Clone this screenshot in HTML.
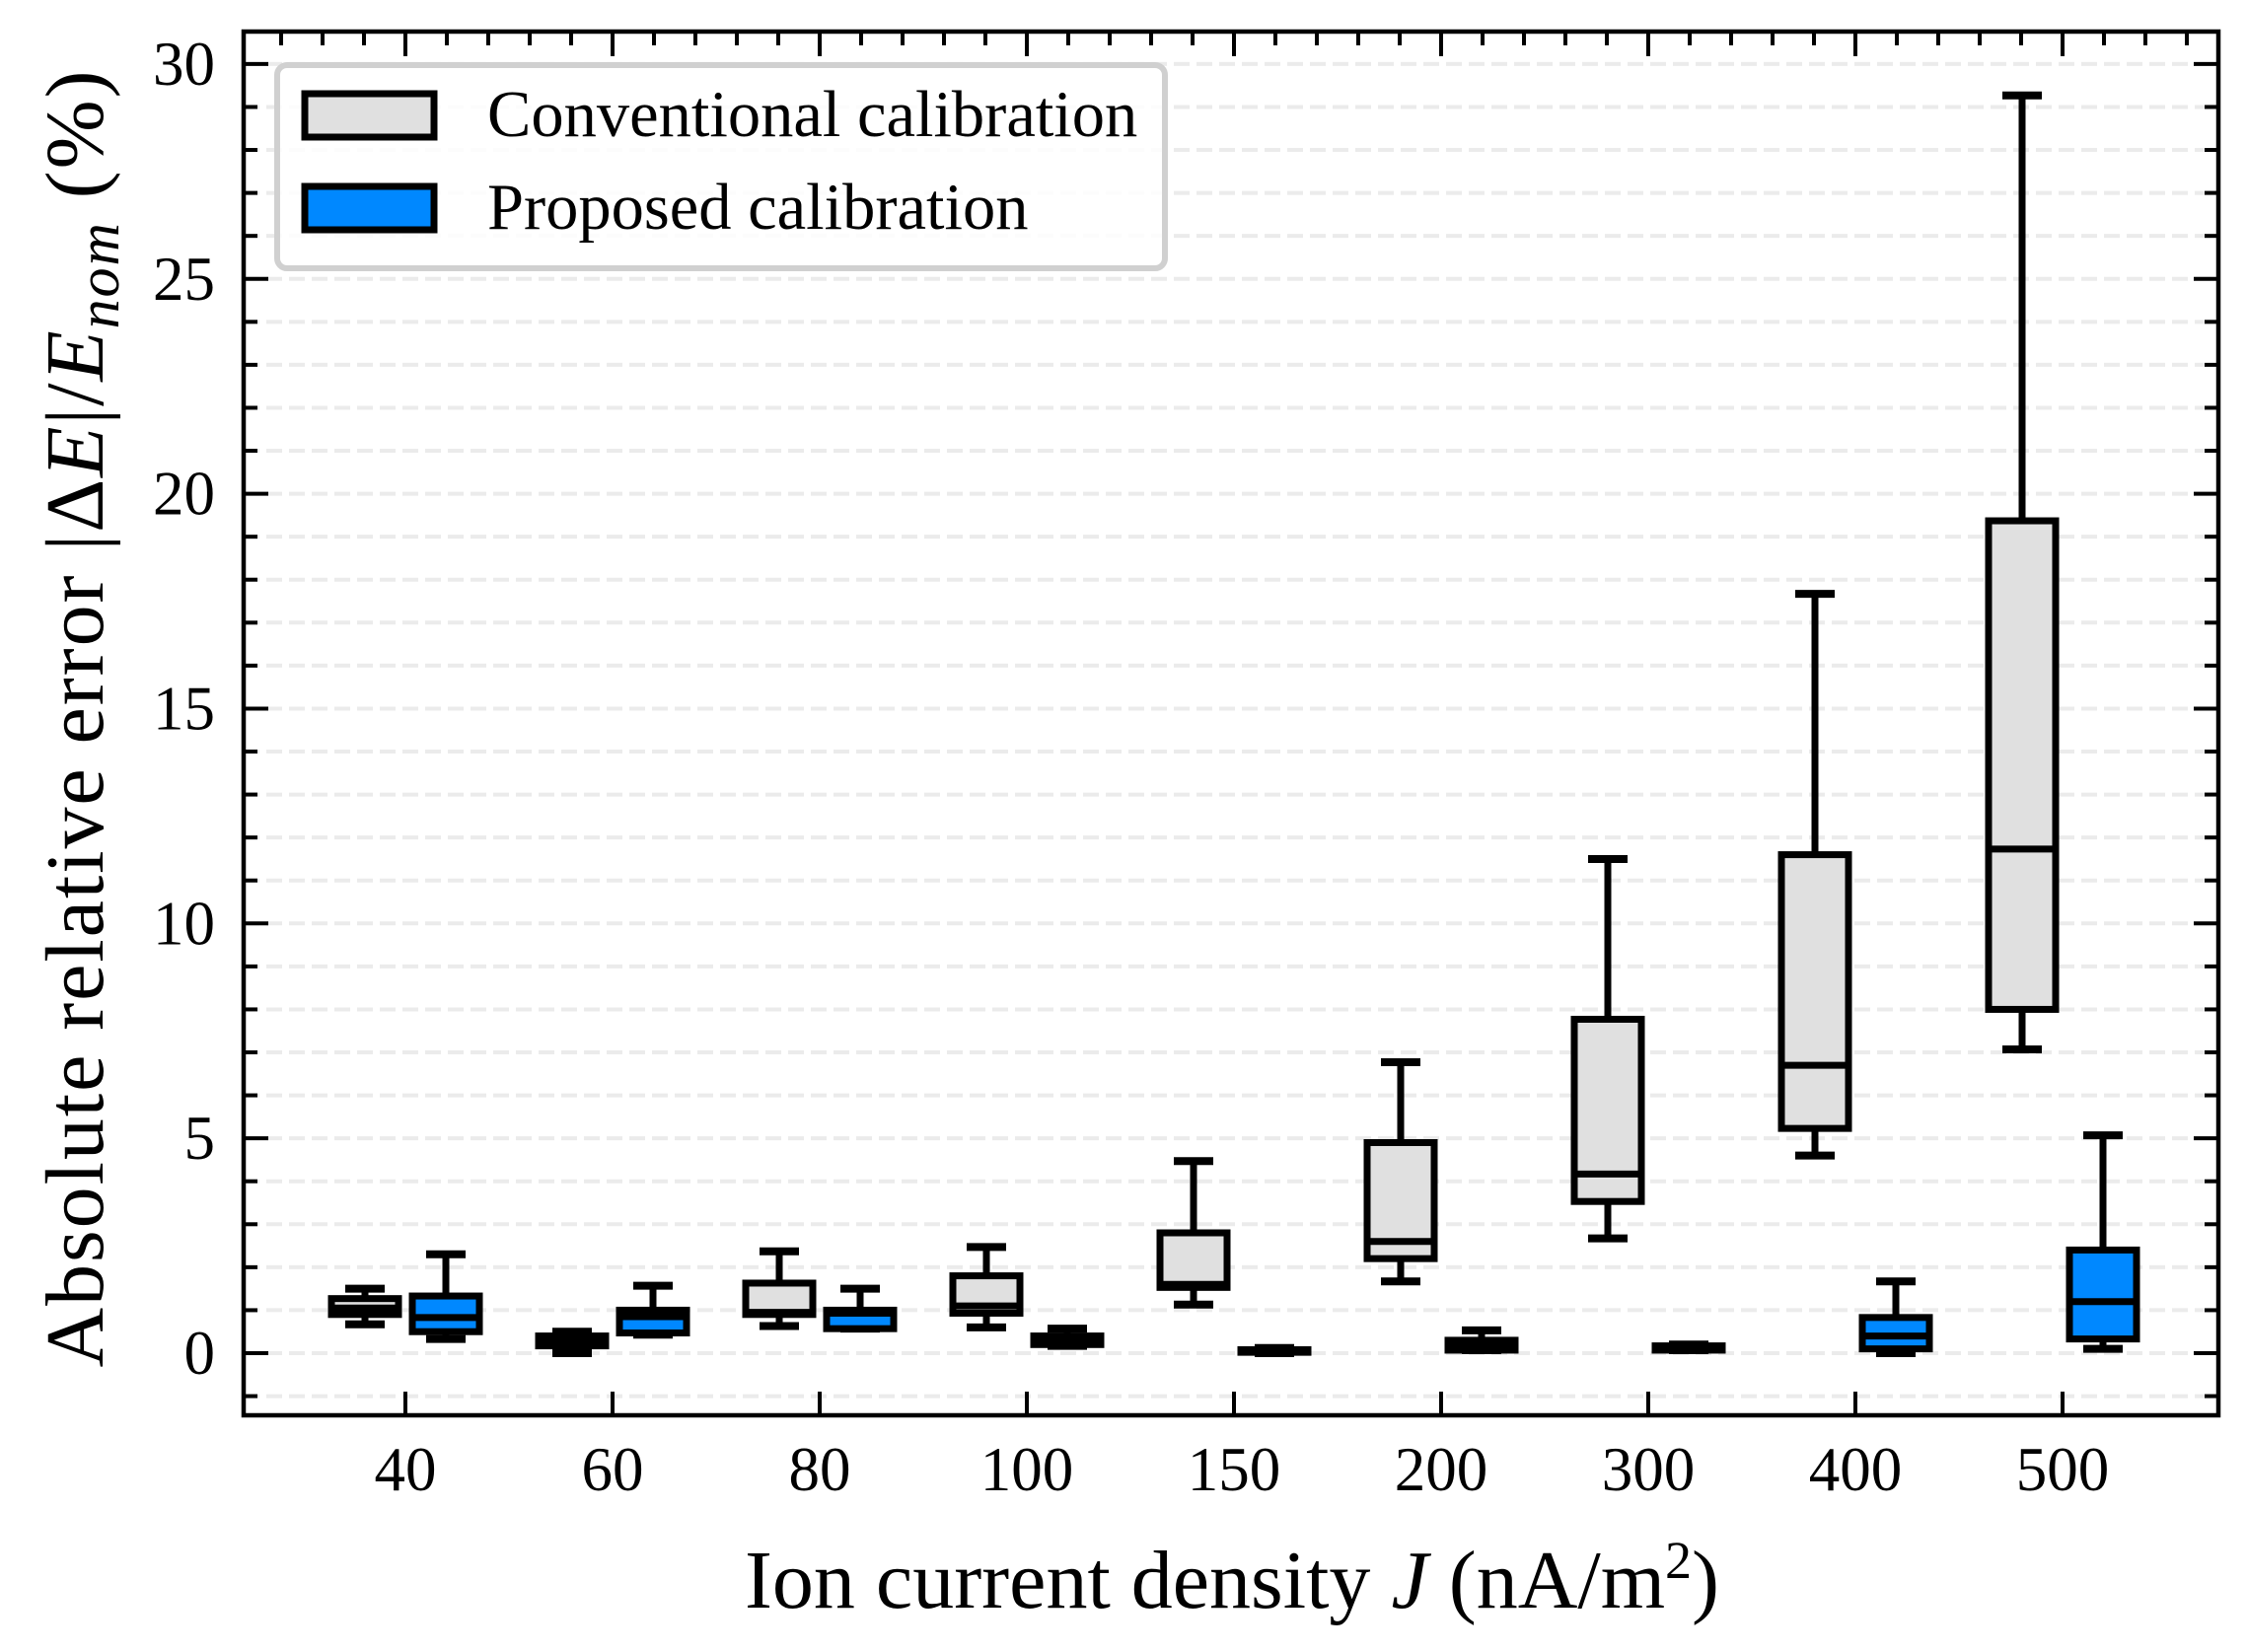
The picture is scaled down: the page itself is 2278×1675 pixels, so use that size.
<!DOCTYPE html>
<html><head><meta charset="utf-8"><style>
html,body{margin:0;padding:0;background:#fff;}
svg{display:block;}
text{font-family:"Liberation Serif","Times New Roman",serif;fill:#000;}
</style></head><body>
<svg id="chart" width="2278" height="1675" viewBox="0 0 2278 1675" xmlns="http://www.w3.org/2000/svg">
<g id="grid"></g>
<g id="boxes"></g>
<g id="axes"></g>
<g id="legend">
  <rect x="281" y="66" width="900" height="206" rx="10" fill="#fff" fill-opacity="0.85" stroke="#d0d0d0" stroke-width="6"/>
  <rect x="309" y="95" width="131" height="44" fill="#e0e0e0" stroke="#000" stroke-width="7"/>
  <text x="494" y="138" font-size="66.5">Conventional calibration</text>
  <rect x="309" y="189" width="131" height="44" fill="#0088ff" stroke="#000" stroke-width="7"/>
  <text x="494" y="232" font-size="66.5">Proposed calibration</text>
</g>
<text x="1249" y="1630" font-size="84" text-anchor="middle">Ion current density <tspan font-style="italic">J</tspan> (nA/m<tspan baseline-shift="super" font-size="54">2</tspan>)</text>
<text transform="translate(104,729) rotate(-90)" font-size="84" text-anchor="middle" textLength="1315" lengthAdjust="spacing">Absolute relative error |Δ<tspan font-style="italic">E</tspan>|/<tspan font-style="italic">E</tspan><tspan font-style="italic" font-size="60" dy="16">nom</tspan><tspan dy="-16"> (%)</tspan></text>
</svg>
<script>
const categories = ["40","60","80","100","150","200","300","400","500"];
// conventional: [whiskerLow, q1, median, q3, whiskerHigh]
const convLow  = [0.67, 0.00, 0.63, 0.60, 1.13, 1.67, 2.67, 4.60, 7.07];
const convQ1   = [0.90, 0.17, 0.90, 0.93, 1.53, 2.20, 3.53, 5.23, 8.00];
const convMed  = [1.05, 0.27, 0.95, 1.10, 1.60, 2.60, 4.17, 6.70, 11.73];
const convQ3   = [1.27, 0.40, 1.63, 1.80, 2.80, 4.90, 7.77, 11.60, 19.37];
const convHigh = [1.50, 0.50, 2.37, 2.47, 4.47, 6.77, 11.50, 17.67, 29.27];
const propLow  = [0.33, 0.43, 0.57, 0.17, 0.00, 0.07, 0.07, 0.00, 0.10];
const propQ1   = [0.50, 0.47, 0.57, 0.20, 0.02, 0.07, 0.07, 0.10, 0.33];
const propMed  = [0.83, 0.85, 0.93, 0.30, 0.05, 0.17, 0.12, 0.40, 1.20];
const propQ3   = [1.33, 1.00, 1.00, 0.40, 0.08, 0.30, 0.17, 0.83, 2.40];
const propHigh = [2.30, 1.57, 1.50, 0.57, 0.12, 0.53, 0.20, 1.67, 5.07];
const yTicks = [0,5,10,15,20,25,30];

const NS="http://www.w3.org/2000/svg";
const L=247,R=2249,T=32,B=1435;
function yPix(v){return 1372-v*43.57;}
function xPix(i){return 411+i*210;}
function mk(tag,attrs,parent){const e=document.createElementNS(NS,tag);for(const k in attrs)e.setAttribute(k,attrs[k]);parent.appendChild(e);return e;}
const grid=document.getElementById('grid'),boxes=document.getElementById('boxes'),axes=document.getElementById('axes');
for(let v=-1;v<=30;v++){
  const g=mk('line',{x1:L,x2:R,y1:yPix(v),y2:yPix(v),stroke:'#ebebeb','stroke-width':4,'stroke-dasharray':'16 7'},grid);
  
  
}
function drawBox(i,off,lo,q1,md,q3,hi,fill,name){
  const cx=xPix(i)+off, w=68, cw=40;
  const g=mk('g',{},boxes);
  
  
  const st={stroke:'#000','stroke-width':7};
  mk('line',Object.assign({x1:cx,x2:cx,y1:yPix(q3),y2:yPix(hi)},st),g);
  mk('line',Object.assign({x1:cx,x2:cx,y1:yPix(q1),y2:yPix(lo)},st),g);
  mk('line',Object.assign({x1:cx-cw/2,x2:cx+cw/2,y1:yPix(hi),y2:yPix(hi)},st,{'stroke-width':8}),g);
  mk('line',Object.assign({x1:cx-cw/2,x2:cx+cw/2,y1:yPix(lo),y2:yPix(lo)},st,{'stroke-width':8}),g);
  mk('rect',Object.assign({x:cx-w/2,y:yPix(q3),width:w,height:Math.max(0.5,yPix(q1)-yPix(q3)),fill:fill},st),g);
  mk('line',Object.assign({x1:cx-w/2,x2:cx+w/2,y1:yPix(md),y2:yPix(md)},st),g);
}
for(let i=0;i<categories.length;i++){
  drawBox(i,-41,convLow[i],convQ1[i],convMed[i],convQ3[i],convHigh[i],'#e0e0e0','box-conventional');
  drawBox(i,41,propLow[i],propQ1[i],propMed[i],propQ3[i],propHigh[i],'#0088ff','box-proposed');
}
for(let v=-1;v<=30;v++){
  const len=(v%5===0)?25:14;
  mk('line',{x1:L,x2:L+len,y1:yPix(v),y2:yPix(v),stroke:'#000','stroke-width':4},axes);
  mk('line',{x1:R,x2:R-len,y1:yPix(v),y2:yPix(v),stroke:'#000','stroke-width':4},axes);
}
yTicks.forEach(v=>{
  const t=mk('text',{x:218,y:yPix(v)+21,'font-size':63,'text-anchor':'end'},axes);
  t.textContent=v;
  
  
});
for(let x=411-42*3;x<R;x+=42){
  const k=(x-411)/210;
  const major=Math.abs(k-Math.round(k))<1e-6 && k<categories.length;
  mk('line',{x1:x,x2:x,y1:T,y2:T+(major?25:14),stroke:'#000','stroke-width':4},axes);
}
categories.forEach((c,i)=>{
  mk('line',{x1:xPix(i),x2:xPix(i),y1:B,y2:B-24,stroke:'#000','stroke-width':4},axes);
  const t=mk('text',{x:xPix(i),y:1511,'font-size':63,'text-anchor':'middle'},axes);
  t.textContent=c;
  
  
});
const sp=mk('rect',{x:L,y:T,width:R-L,height:B-T,fill:'none',stroke:'#000','stroke-width':4.5},axes);


</script>
</body></html>
